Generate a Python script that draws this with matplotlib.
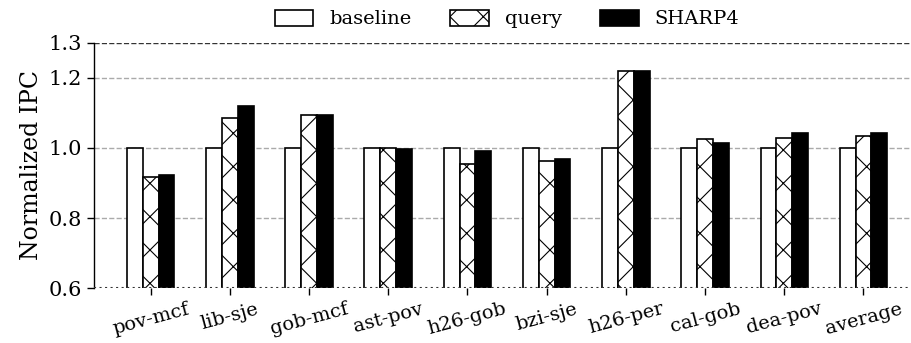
import matplotlib
matplotlib.use("Agg")
import matplotlib.pyplot as plt
import numpy as np

plt.rcParams['font.family'] = ['DejaVu Serif']
plt.rcParams['hatch.linewidth'] = 0.8

categories = ["pov-mcf", "lib-sje", "gob-mcf", "ast-pov", "h26-gob", "bzi-sje",
              "h26-per", "cal-gob", "dea-pov", "average"]
baseline = [1.0, 1.0, 1.0, 1.0, 1.0, 1.0, 1.0, 1.0, 1.0, 1.0]
query = [0.918, 1.085, 1.093, 1.0, 0.953, 0.964, 1.22, 1.025, 1.028, 1.033]
sharp4 = [0.923, 1.12, 1.095, 0.996, 0.99, 0.968, 1.22, 1.015, 1.042, 1.042]
yticks = [0.6, 0.8, 1.0, 1.2, 1.3]

fig = plt.figure(figsize=(9.11, 3.43), dpi=100)
ax = fig.add_axes([0.103, 0.160, 0.897, 0.715])

x = np.arange(len(categories))
w = 0.2
ax.bar(x - w, baseline, w, bottom=0, color='white', edgecolor='black', linewidth=1.2, label='baseline', zorder=3)
ax.bar(x, query, w, color='white', edgecolor='black', hatch='x', linewidth=1.2, label='query', zorder=3)
ax.bar(x + w, sharp4, w, color='black', edgecolor='black', linewidth=1.2, label='SHARP4', zorder=3)

ax.set_ylim(0.6, 1.3)
ax.set_xlim(-0.717, 9.6)
ax.set_yticks(yticks)
ax.set_yticklabels([f"{v:.1f}" for v in yticks], fontsize=15)
ax.set_xticks(x)
ax.set_xticklabels(categories, rotation=15, fontsize=14)
ax.set_ylabel("Normalized IPC", fontsize=17, labelpad=4)

for v in [0.8, 1.0, 1.2]:
    ax.axhline(v, color='#aaaaaa', linestyle='--', linewidth=1.0, zorder=1)
ax.axhline(1.3, color='#333333', linestyle='--', linewidth=1.0, zorder=1)
ax.axhline(0.6, color='#333333', linestyle=':', linewidth=1.5, zorder=4)

for s in ['top', 'right', 'bottom']:
    ax.spines[s].set_visible(False)
ax.spines['left'].set_linewidth(1.0)
ax.tick_params(axis='both', length=5, width=1.0)

ax.legend(loc='center', bbox_to_anchor=(507 / 911, 1 - 19 / 343), bbox_transform=fig.transFigure,
          ncol=3, frameon=False, fontsize=14, handlelength=2.0, handleheight=0.9,
          columnspacing=2.0, handletextpad=0.8, borderpad=0)

fig.savefig("out.png", dpi=100)
